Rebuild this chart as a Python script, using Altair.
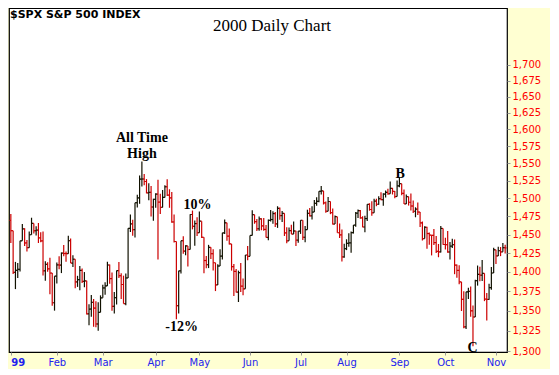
import altair as alt
import pandas as pd

# Daily OHLC, S&P 500, trading-day index 0 = first bar (Jan 3)
opens = [1469.25,1455.22,1399.42,1402.11,1403.45,1441.47,1457.60,1438.56,1432.25,1449.68,
         1465.15,1455.14,1455.90,1445.57,1441.36,1401.53,1410.03,1404.09,1398.56,1360.16,
         1394.46,1409.28,1409.12,1424.97,1424.37,1424.24,1441.72,1411.71,1416.83,1387.12,
         1389.94,1402.05,1387.67,1388.26,1346.09,1352.17,1360.69,1353.43,1333.36,1348.05,
         1366.42,1379.19,1381.76,1409.17,1391.28,1355.62,1366.70,1401.69,1395.07,1383.62,
         1359.15,1392.14,1458.47,1464.47,1456.63,1493.87,1500.64,1527.35,1527.46,1523.86,
         1507.73,1508.52,1487.92,
         1498.58,1505.97,1494.73,1487.37,1501.34,1516.35,1504.46,1500.59,1467.17,1440.51,
         1356.56,1401.44,1441.61,1427.47,1434.54,1429.86,1477.44,1460.99,1464.92,
         1452.43,1468.25,1446.29,1415.10,1409.57,1432.63,1424.17,1412.14,1383.05,1407.81,
         1420.96,1452.36,1466.04,1447.80,1437.21,1406.95,1400.72,1373.86,1399.05,1381.52,
         1378.02,1422.45,
         1420.60,1448.81,1477.26,1467.63,1457.84,1471.36,1461.67,1456.95,1446.00,1469.44,
         1470.54,1478.73,1464.46,1486.00,1475.95,1479.13,1452.18,1441.48,1455.31,1450.55,
         1454.82,1442.39,
         1454.60,1469.54,1446.23,1456.67,1478.90,1475.62,1480.88,1492.92,1495.84,1509.98,
         1510.49,1493.74,1481.96,1495.57,1480.19,1464.29,1474.47,1452.42,1449.62,1419.89,
         1430.83,1438.10,1438.70,1452.56,1462.93,1479.32,1482.80,1472.87,1460.25,1471.84,
         1491.56,1484.43,1479.85,1496.07,1491.72,1499.48,1498.13,1505.97,1508.31,1506.45,
         1514.09,1509.84,1502.59,
         1517.68,1520.77,1507.08,1492.25,1502.51,1494.50,1489.26,1481.99,1484.91,1480.87,
         1465.81,1444.51,1459.90,1451.34,1449.05,1448.72,1439.03,1427.21,1426.57,1458.29,
         1436.52,1436.23,1426.46,1434.32,1436.28,1408.99,1402.03,1387.02,1364.59,1329.78,
         1374.17,1374.62,1349.97,1342.13,1388.76,1396.93,1395.78,1398.13,1364.90,1364.44,
         1379.58,1398.66,
         1429.40,1421.22,1428.32,1426.69,1432.19]
highs = [1478.00,1455.22,1413.27,1411.90,1441.47,1464.36,1458.66,1442.60,1454.20,1473.00,
         1465.15,1461.39,1465.71,1453.18,1454.09,1414.26,1412.73,1418.86,1398.56,1394.48,
         1412.49,1420.61,1425.78,1435.91,1427.15,1448.32,1444.55,1422.10,1416.83,1394.93,
         1407.72,1404.55,1399.88,1388.59,1358.11,1370.11,1364.80,1362.14,1360.82,1369.63,
         1383.46,1386.56,1413.46,1409.74,1399.21,1373.79,1401.82,1413.19,1398.39,1395.15,
         1397.99,1458.47,1477.33,1470.30,1493.92,1505.08,1532.50,1552.87,1534.63,1527.36,
         1521.45,1517.38,1499.52,
         1507.19,1526.45,1506.55,1511.76,1518.68,1527.19,1512.80,1509.08,1477.52,1440.51,
         1401.53,1441.61,1447.69,1435.49,1434.54,1477.67,1482.94,1469.21,1473.62,
         1481.51,1468.25,1446.29,1420.99,1436.03,1432.63,1430.28,1412.14,1410.26,1430.13,
         1452.39,1470.40,1466.04,1458.04,1437.21,1410.55,1403.77,1401.75,1411.65,1391.42,
         1422.45,1434.49,
         1448.81,1483.23,1477.28,1471.36,1474.64,1472.32,1472.67,1462.93,1470.42,1483.62,
         1482.04,1480.77,1488.93,1487.32,1482.19,1479.13,1459.94,1459.66,1463.35,1467.63,
         1455.14,1454.68,
         1469.58,1469.54,1461.65,1484.12,1486.56,1488.77,1497.69,1501.39,1509.99,1517.32,
         1510.49,1495.63,1501.92,1495.57,1485.88,1476.23,1474.47,1464.91,1456.68,1437.65,
         1443.54,1451.59,1454.19,1462.93,1480.80,1484.52,1483.80,1475.15,1475.72,1491.64,
         1493.12,1496.09,1499.32,1499.47,1502.84,1508.45,1507.20,1511.16,1513.47,1523.95,
         1514.81,1510.49,1525.21,
         1530.09,1520.77,1512.61,1505.34,1502.51,1506.76,1496.93,1487.45,1494.16,1480.96,
         1467.77,1461.16,1460.49,1452.77,1449.05,1457.42,1448.04,1437.22,1461.69,1458.29,
         1445.60,1454.82,1439.99,1444.17,1443.30,1409.69,1408.83,1387.02,1374.93,1374.17,
         1379.48,1380.99,1356.65,1389.93,1408.47,1406.96,1415.64,1398.13,1372.72,1384.57,
         1406.36,1432.22,
         1429.60,1433.40,1433.06,1438.46,1436.22]
lows = [1438.36,1397.43,1377.68,1392.10,1400.73,1441.47,1434.42,1427.08,1432.25,1449.68,
        1451.30,1448.68,1438.54,1439.60,1395.42,1388.49,1400.16,1370.99,1356.20,1350.14,
        1384.79,1403.49,1398.52,1420.63,1413.33,1424.24,1411.65,1406.43,1378.89,1380.53,
        1376.25,1385.58,1380.07,1345.32,1331.88,1342.44,1329.88,1329.15,1325.07,1348.05,
        1366.42,1370.35,1381.76,1384.75,1349.99,1346.62,1357.88,1392.07,1364.84,1359.15,
        1356.99,1392.14,1453.32,1448.49,1446.06,1487.33,1492.39,1516.83,1518.46,1507.09,
        1497.45,1474.63,1468.96,
        1486.96,1416.41,1478.05,1487.37,1501.34,1503.35,1486.78,1466.15,1439.34,1339.40,
        1346.50,1397.81,1424.26,1422.08,1407.13,1429.86,1456.98,1434.81,1448.15,
        1452.43,1445.22,1398.36,1404.94,1405.08,1417.05,1401.85,1375.14,1383.05,1407.81,
        1416.54,1450.76,1441.67,1436.59,1401.74,1368.73,1373.43,1361.09,1373.93,1369.75,
        1378.02,1415.50,
        1420.60,1448.81,1464.68,1454.74,1455.06,1455.82,1454.96,1445.99,1442.38,1467.71,
        1464.62,1460.42,1459.05,1470.18,1466.96,1448.03,1438.31,1441.48,1450.55,1450.55,
        1434.63,1438.71,
        1450.85,1442.45,1439.56,1456.67,1474.76,1470.48,1480.88,1489.65,1494.56,1505.26,
        1491.35,1479.92,1481.96,1477.91,1463.80,1464.29,1452.42,1445.33,1413.89,1418.71,
        1428.96,1433.49,1425.43,1451.31,1460.72,1472.61,1471.48,1459.89,1453.06,1468.56,
        1482.74,1475.74,1479.85,1488.99,1491.13,1497.42,1489.52,1501.25,1505.09,1506.45,
        1505.46,1500.09,1502.59,
        1515.53,1504.21,1492.12,1492.25,1489.88,1483.01,1479.67,1473.61,1476.73,1460.22,
        1441.92,1444.51,1430.95,1436.30,1421.88,1435.93,1425.25,1419.44,1425.78,1436.29,
        1429.83,1425.28,1416.31,1431.80,1397.06,1392.48,1383.85,1349.67,1328.06,1327.08,
        1365.06,1342.34,1305.79,1342.13,1382.19,1387.75,1388.13,1362.21,1337.81,1364.13,
        1376.86,1398.66,
        1410.45,1421.22,1420.92,1426.69,1424.48]
closes = [1455.22,1399.42,1402.11,1403.45,1441.47,1457.60,1438.56,1432.25,1449.68,1465.15,
          1455.14,1455.90,1445.57,1441.36,1401.53,1410.03,1404.09,1398.56,1360.16,1394.46,
          1409.28,1409.12,1424.97,1424.37,1424.24,1441.72,1411.71,1416.83,1387.12,1389.94,
          1402.05,1387.67,1388.26,1346.09,1352.17,1360.69,1353.43,1333.36,1348.05,1366.42,
          1379.19,1381.76,1409.17,1391.28,1355.62,1366.70,1401.69,1395.07,1383.62,1359.15,
          1392.14,1458.47,1464.47,1456.63,1493.87,1500.64,1527.35,1527.46,1523.86,1507.73,
          1508.52,1487.92,1498.58,
          1505.97,1494.73,1487.37,1501.34,1516.35,1504.46,1500.59,1467.17,1440.51,1356.56,
          1401.44,1441.61,1427.47,1434.54,1429.86,1477.44,1460.99,1464.92,1452.43,
          1468.25,1446.29,1415.10,1409.57,1432.63,1424.17,1412.14,1383.05,1407.81,1420.96,
          1452.36,1466.04,1447.80,1437.21,1406.95,1400.72,1373.86,1399.05,1381.52,1378.02,
          1422.45,1420.60,
          1448.81,1477.26,1467.63,1457.84,1471.36,1461.67,1456.95,1446.00,1469.44,1470.54,
          1478.73,1464.46,1486.00,1475.95,1479.13,1452.18,1441.48,1455.31,1450.55,1454.82,
          1442.39,1454.60,
          1469.54,1446.23,1456.67,1478.90,1475.62,1480.88,1492.92,1495.84,1509.98,1510.49,
          1493.74,1481.96,1495.57,1480.19,1464.29,1474.47,1452.42,1449.62,1419.89,1430.83,
          1438.10,1438.70,1452.56,1462.93,1479.32,1482.80,1472.87,1460.25,1471.84,1491.56,
          1484.43,1479.85,1496.07,1491.72,1499.48,1498.13,1505.97,1508.31,1506.45,1514.09,
          1509.84,1502.59,1517.68,
          1520.77,1507.08,1492.25,1502.51,1494.50,1489.26,1481.99,1484.91,1480.87,1465.81,
          1444.51,1459.90,1451.34,1449.05,1448.72,1439.03,1427.21,1426.57,1458.29,1436.51,
          1436.23,1426.46,1434.32,1436.28,1408.99,1402.03,1387.02,1364.59,1329.78,1374.17,
          1374.62,1349.97,1342.13,1388.76,1396.93,1395.78,1398.13,1364.90,1364.44,1379.58,
          1398.66,1429.40,
          1421.22,1428.32,1426.69,1432.19,1431.87]

month_idx = [0, 20, 40, 63, 82, 104, 126, 146, 169, 189, 211]
month_lbl = ["99", "Feb", "Mar", "Apr", "May", "Jun", "Jul", "Aug", "Sep", "Oct", "Nov"]
price_ticks = list(range(1300, 1701, 25))

ann_text = ["All Time", "High", "10%", "-12%", "B", "C"]
ann_x = [57, 57, 81.2, 74.3, 169.3, 200.8]
ann_y = [1587, 1563, 1490, 1330, 1534, 1304]

n = len(closes)
rows = []
for i in range(n):
    prev = closes[i - 1] if i > 0 else opens[0]
    rows.append({
        "i": i, "il": i - 0.6, "ir": i + 0.6,
        "o": opens[i], "h": highs[i], "l": lows[i], "c": closes[i],
        "dir": "down" if closes[i] < prev else "up",
    })
df = pd.DataFrame(rows)
ann = pd.DataFrame({"t": ann_text, "x": ann_x, "y": ann_y})

W, H = 498, 344
xscale = alt.Scale(domain=[-0.8, 215.8], nice=False, zero=False)
yscale = alt.Scale(type="log", domain=[1298.8, 1793], nice=False)
cscale = alt.Scale(domain=["up", "down"], range=["#111100", "#CC0000"])

label_expr = ("[" + ",".join(f"'{s}'" for s in month_lbl) + "][indexof(["
              + ",".join(str(v) for v in month_idx) + "], datum.value)]")

xaxis = alt.Axis(values=month_idx, labelExpr=label_expr, title=None, grid=False,
                 domain=False, tickColor="#999999", tickSize=3, labelPadding=2,
                 labelColor="#2222EE", labelFont="DejaVu Sans", labelFontSize=10,
                 labelFlush=5, labelAngle=0,
                 labelFontWeight=alt.expr("datum.value == 0 ? 'bold' : 'normal'"))
yaxis = alt.Axis(orient="right", values=price_ticks, format=",", title=None, grid=False,
                 domain=False, tickColor="#999999", tickSize=3, labelPadding=2,
                 labelColor="#FF0000", labelFont="DejaVu Sans", labelFontSize=10)

base = alt.Chart(df)
hl = base.mark_rule(strokeWidth=1.2).encode(
    x=alt.X("i:Q", scale=xscale, axis=xaxis),
    y=alt.Y("l:Q", scale=yscale, axis=yaxis),
    y2="h:Q",
    color=alt.Color("dir:N", scale=cscale, legend=None),
)
otick = base.mark_rule(strokeWidth=1.2).encode(
    x=alt.X("il:Q", scale=xscale, axis=xaxis), x2="i:Q",
    y=alt.Y("o:Q", scale=yscale, axis=yaxis),
    color=alt.Color("dir:N", scale=cscale, legend=None),
)
ctick = base.mark_rule(strokeWidth=1.2).encode(
    x=alt.X("i:Q", scale=xscale, axis=xaxis), x2="ir:Q",
    y=alt.Y("c:Q", scale=yscale, axis=yaxis),
    color=alt.Color("dir:N", scale=cscale, legend=None),
)
anns = alt.Chart(ann).mark_text(font="Liberation Serif", fontWeight="bold", fontSize=14,
                                color="black", baseline="middle", align="center").encode(
    x=alt.X("x:Q", scale=xscale, axis=xaxis),
    y=alt.Y("y:Q", scale=yscale, axis=yaxis),
    text="t:N",
)
title = alt.Chart(pd.DataFrame({"t": ["2000 Daily Chart"]})).mark_text(
    font="Liberation Serif", fontSize=17, color="black", align="center",
    baseline="alphabetic").encode(x=alt.value(263), y=alt.value(23), text="t:N")
sym = alt.Chart(pd.DataFrame({"t": ["$SPX S&P 500 INDEX"]})).mark_text(
    font="DejaVu Sans", fontSize=11, fontWeight="bold", color="black", align="left",
    baseline="top").encode(x=alt.value(1), y=alt.value(1), text="t:N")

chart = alt.layer(hl, otick, ctick, anns, title, sym).properties(
    width=W, height=H, padding={"left": 0, "top": 0, "right": 9, "bottom": 2},
).configure(background="#FFFFD2").configure_view(fill="white", stroke="black", strokeWidth=1.2)

chart.save("out.html", embed_options={"renderer": "svg", "actions": False})
